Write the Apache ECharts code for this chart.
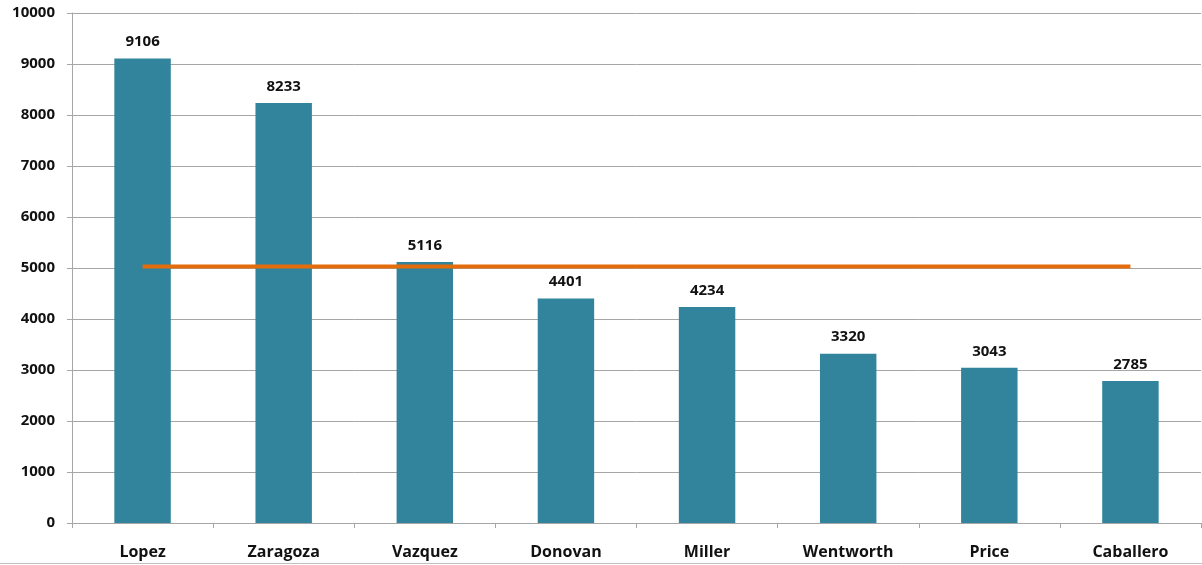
<!DOCTYPE html>
<html>
<head>
<meta charset="utf-8">
<script src="https://cdn.jsdelivr.net/npm/echarts@6/dist/echarts.min.js"></script>
<style>
html,body{margin:0;padding:0;background:#fff;}
#c{width:1202px;height:565px;}
</style>
</head>
<body>
<div id="c"></div>
<script>
const categories = ['Lopez','Zaragoza','Vazquez','Donovan','Miller','Wentworth','Price','Caballero'];
const values = [9106, 8233, 5116, 4401, 4234, 3320, 3043, 2785];
const averageLine = [5030, 5030, 5030, 5030, 5030, 5030, 5030, 5030];

const chart = echarts.init(document.getElementById('c'));
const FONT = '"Open Sans", Lato, sans-serif';
chart.setOption({
  animation: false,
  backgroundColor: '#ffffff',
  grid: {left: 72, right: 1, top: 13, bottom: 42, containLabel: false},
  xAxis: {
    type: 'category',
    data: categories,
    boundaryGap: true,
    axisLine: {lineStyle: {color: '#A6A6A6', width: 1}},
    axisTick: {show: true, length: 5, lineStyle: {color: '#A6A6A6'}},
    axisLabel: {color: '#111', fontFamily: FONT, fontWeight: 'bold', fontSize: 16, margin: 21}
  },
  yAxis: {
    type: 'value',
    min: 0, max: 10000, interval: 1000,
    axisLine: {show: true, lineStyle: {color: '#A6A6A6', width: 1}},
    axisTick: {show: true, length: 5, lineStyle: {color: '#A6A6A6'}},
    splitLine: {lineStyle: {color: '#A6A6A6', width: 1}},
    axisLabel: {color: '#111', fontFamily: FONT, fontWeight: 'bold', fontSize: 15, margin: 17,
      formatter: function (v) { return String(v); }}
  },
  series: [
    {
      type: 'bar',
      data: values,
      barWidth: '40%',
      itemStyle: {color: '#31849B'},
      label: {show: true, position: 'top', distance: 9, color: '#111', fontFamily: FONT, fontWeight: 'bold', fontSize: 15}
    },
    {
      type: 'line',
      data: averageLine,
      symbol: 'none',
      lineStyle: {color: '#E46C0A', width: 4},
      z: 5
    }
  ],
  graphic: [
    {type: 'line', shape: {x1: 0, y1: 563.5, x2: 1202, y2: 563.5}, style: {stroke: '#BFBFBF', lineWidth: 1}}
  ]
});
</script>
</body>
</html>
